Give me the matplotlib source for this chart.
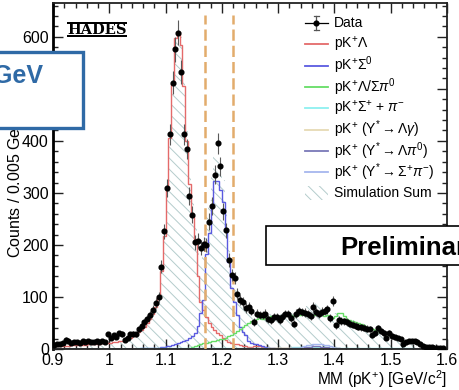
import numpy as np
import matplotlib.pyplot as plt
from matplotlib.patches import Rectangle
from matplotlib.lines import Line2D
from matplotlib.ticker import MultipleLocator, FuncFormatter

plt.rcParams['font.family'] = ['Liberation Sans', 'DejaVu Sans']
plt.rcParams['mathtext.fontset'] = 'custom'
plt.rcParams['mathtext.rm'] = 'Liberation Sans'
plt.rcParams['mathtext.it'] = 'Liberation Sans:italic'
plt.rcParams['mathtext.bf'] = 'Liberation Sans:bold'
plt.rcParams['hatch.linewidth'] = 0.7

# missing mass histogram, 140 bins of 5 MeV from 0.9 to 1.6 GeV/c2
mm_min, mm_max, n_bins = 0.9, 1.6, 140
cuts = [1.17, 1.22]

data = [
    8, 9, 9, 12, 18, 16, 11, 13, 14, 12,
    15, 14, 15, 14, 13, 16, 14, 16, 13, 28,
    22, 26, 24, 30, 29, 18, 21, 28, 29, 28,
    38, 45, 51, 57, 65, 75, 88, 100, 158, 226,
    310, 413, 512, 576, 608, 533, 413, 384, 294, 258,
    205, 208, 195, 202, 200, 245, 275, 335, 395, 351,
    265, 228, 171, 142, 136, 106, 95, 91, 79, 81,
    73, 52, 68, 65, 65, 68, 57, 55, 61, 61,
    56, 62, 67, 67, 60, 49, 68, 73, 71, 70,
    67, 63, 81, 71, 67, 72, 73, 76, 59, 93,
    46, 56, 54, 53, 52, 49, 47, 45, 43, 42,
    41, 39, 38, 27, 31, 40, 34, 31, 22, 31,
    25, 23, 21, 19, 9, 13, 15, 15, 15, 14,
    10, 6, 4, 3, 3, 2, 2, 1, 1, 0,
]

sim_lambda = [
    5, 5, 5, 6, 6, 6, 7, 7, 7, 8,
    8, 8, 9, 9, 9, 10, 10, 11, 11, 12,
    12, 13, 14, 15, 16, 18, 20, 22, 25, 28,
    32, 37, 43, 50, 58, 68, 80, 100, 150, 218,
    305, 405, 512, 598, 610, 585, 505, 400, 318, 255,
    212, 140, 90, 75, 62, 50, 42, 36, 30, 26,
    22, 18, 14, 12, 10, 9, 8, 6, 5, 4,
    4, 5, 6, 5, 4, 3, 2, 2, 1, 1,
    1, 1, 1, 1, 0, 0, 0, 0, 0, 0,
    0, 0, 0, 0, 0, 0, 0, 0, 0, 0,
    0, 0, 0, 0, 0, 0, 0, 0, 0, 0,
    0, 0, 0, 0, 0, 0, 0, 0, 0, 0,
    0, 0, 0, 0, 0, 0, 0, 0, 0, 0,
    0, 0, 0, 0, 0, 0, 0, 0, 0, 0,
]

sim_sigma0 = [
    0, 0, 0, 0, 0, 0, 0, 0, 0, 0,
    0, 0, 0, 0, 0, 0, 0, 0, 0, 0,
    0, 0, 0, 0, 0, 0, 0, 0, 0, 0,
    0, 1, 1, 1, 1, 1, 2, 2, 3, 4,
    5, 6, 7, 9, 11, 13, 15, 18, 21, 25,
    30, 45, 70, 95, 182, 222, 272, 322, 323, 305,
    282, 226, 168, 118, 90, 66, 42, 32, 26, 16,
    12, 10, 9, 7, 5, 3, 2, 1, 1, 0,
    0, 0, 0, 0, 0, 0, 0, 0, 0, 0,
    0, 0, 0, 0, 0, 0, 0, 0, 0, 0,
    0, 0, 0, 0, 0, 0, 0, 0, 0, 0,
    0, 0, 0, 0, 0, 0, 0, 0, 0, 0,
    0, 0, 0, 0, 0, 0, 0, 0, 0, 0,
    0, 0, 0, 0, 0, 0, 0, 0, 0, 0,
]

sim_lambda_sigma_pi0 = [
    0, 0, 0, 0, 0, 0, 0, 0, 0, 0,
    0, 0, 0, 0, 0, 0, 0, 0, 0, 0,
    0, 0, 0, 0, 0, 0, 0, 0, 0, 0,
    0, 0, 0, 0, 0, 0, 0, 0, 0, 0,
    0, 0, 0, 0, 0, 0, 0, 0, 2, 3,
    5, 7, 9, 11, 12, 14, 16, 16, 18, 19,
    20, 22, 25, 27, 30, 34, 38, 42, 46, 50,
    53, 56, 58, 60, 58, 60, 62, 63, 62, 64,
    63, 64, 65, 63, 65, 64, 66, 65, 67, 66,
    65, 68, 66, 67, 66, 67, 64, 65, 62, 60,
    64, 69, 70, 63, 58, 55, 54, 52, 50, 48,
    46, 43, 41, 38, 36, 35, 33, 31, 29, 27,
    26, 24, 22, 19, 15, 15, 16, 17, 16, 14,
    11, 8, 6, 4, 3, 2, 1, 1, 0, 0,
]

sim_sigmap_pim = [
    0, 0, 0, 0, 0, 0, 0, 0, 0, 0,
    0, 0, 0, 0, 0, 0, 0, 0, 0, 0,
    0, 0, 0, 0, 0, 0, 0, 0, 0, 0,
    1, 1, 1, 1, 1, 1, 1, 1, 1, 1,
    1, 1, 1, 1, 1, 1, 1, 1, 1, 1,
    1, 1, 1, 1, 1, 1, 1, 1, 1, 1,
    1, 1, 1, 1, 1, 1, 1, 1, 1, 1,
    1, 1, 1, 1, 1, 1, 1, 2, 2, 2,
    2, 2, 2, 2, 2, 3, 3, 3, 4, 4,
    4, 4, 4, 4, 3, 3, 3, 3, 2, 2,
    2, 2, 2, 2, 1, 1, 1, 1, 1, 1,
    1, 1, 1, 1, 1, 1, 1, 1, 1, 1,
    1, 1, 1, 1, 1, 1, 1, 1, 0, 0,
    0, 0, 0, 0, 0, 0, 0, 0, 0, 0,
]

sim_ystar_lgamma = [
    0, 0, 0, 0, 0, 0, 0, 0, 0, 0,
    0, 0, 0, 0, 0, 0, 0, 0, 0, 0,
    0, 0, 0, 0, 0, 0, 0, 0, 0, 0,
    0, 0, 0, 0, 0, 0, 0, 0, 0, 0,
    0, 0, 0, 0, 0, 0, 0, 0, 0, 0,
    0, 0, 0, 0, 0, 0, 0, 0, 0, 0,
    0, 0, 0, 0, 0, 0, 0, 0, 0, 0,
    0, 0, 0, 0, 0, 0, 0, 1, 1, 1,
    1, 1, 1, 1, 1, 1, 2, 2, 2, 2,
    2, 2, 2, 2, 2, 1, 1, 1, 1, 1,
    1, 1, 0, 0, 0, 0, 0, 0, 0, 0,
    0, 0, 0, 0, 0, 0, 0, 0, 0, 0,
    0, 0, 0, 0, 0, 0, 0, 0, 0, 0,
    0, 0, 0, 0, 0, 0, 0, 0, 0, 0,
]

sim_ystar_lpi0 = [
    0, 0, 0, 0, 0, 0, 0, 0, 0, 0,
    0, 0, 0, 0, 0, 0, 0, 0, 0, 0,
    0, 0, 0, 0, 0, 0, 0, 0, 0, 0,
    0, 0, 0, 0, 0, 0, 0, 0, 0, 0,
    0, 0, 0, 0, 0, 0, 0, 0, 0, 0,
    0, 0, 0, 0, 0, 0, 0, 0, 0, 0,
    0, 0, 0, 0, 0, 0, 0, 0, 0, 0,
    0, 0, 0, 0, 0, 0, 0, 0, 0, 0,
    0, 0, 0, 0, 1, 1, 2, 2, 3, 3,
    4, 4, 5, 5, 5, 4, 4, 3, 2, 2,
    1, 1, 0, 0, 0, 0, 0, 0, 0, 0,
    0, 0, 0, 0, 0, 0, 0, 0, 0, 0,
    0, 0, 0, 0, 0, 0, 0, 0, 0, 0,
    0, 0, 0, 0, 0, 0, 0, 0, 0, 0,
]

sim_ystar_sigmap_pim = [
    0, 0, 0, 0, 0, 0, 0, 0, 0, 0,
    0, 0, 0, 0, 0, 0, 0, 0, 0, 0,
    0, 0, 0, 0, 0, 0, 0, 0, 0, 0,
    0, 0, 0, 0, 0, 0, 0, 0, 0, 0,
    0, 0, 0, 0, 0, 0, 0, 0, 0, 0,
    0, 0, 0, 0, 0, 0, 0, 0, 0, 0,
    0, 0, 0, 0, 0, 0, 0, 0, 0, 0,
    0, 0, 0, 0, 0, 0, 0, 0, 0, 0,
    0, 0, 0, 0, 0, 1, 1, 2, 3, 5,
    7, 8, 9, 10, 10, 9, 8, 7, 6, 4,
    2, 1, 0, 0, 0, 0, 0, 0, 0, 0,
    0, 0, 0, 0, 0, 0, 0, 0, 0, 0,
    0, 0, 0, 0, 0, 0, 0, 0, 0, 0,
    0, 0, 0, 0, 0, 0, 0, 0, 0, 0,
]

components = [
    (sim_lambda, '#e46a6a', r'pK$^{+}\Lambda$'),
    (sim_sigma0, '#5a5ae0', r'pK$^{+}\Sigma^{0}$'),
    (sim_lambda_sigma_pi0, '#66dd66', r'pK$^{+}\Lambda/\Sigma\pi^{0}$'),
    (sim_sigmap_pim, '#8ef0f0', r'pK$^{+}\Sigma^{+}$ + $\pi^{-}$'),
    (sim_ystar_lgamma, '#e6dab4', r'pK$^{+}$ (Y$^{*}\rightarrow\Lambda\gamma$)'),
    (sim_ystar_lpi0, '#7a78b8', r'pK$^{+}$ (Y$^{*}\rightarrow\Lambda\pi^{0}$)'),
    (sim_ystar_sigmap_pim, '#a6b6ee', r'pK$^{+}$ (Y$^{*}\rightarrow\Sigma^{+}\pi^{-}$)'),
]

edges = np.linspace(mm_min, mm_max, n_bins + 1)
centers = 0.5 * (edges[1:] + edges[:-1])
counts = np.array(data, dtype=float)
sim_sum = np.sum([np.array(c[0], dtype=float) for c in components], axis=0)

W, H = 460, 390
fig = plt.figure(figsize=(W / 100, H / 100), dpi=100)
ax = fig.add_axes([53 / W, 1 - 349 / H, 394 / W, 346 / H])

hatch_col = '#b4cccc'
ax.stairs(sim_sum, edges, fill=True, facecolor='none', edgecolor=hatch_col,
          hatch='\\\\\\', lw=0, zorder=1)
for vals, col, lab in components:
    ax.stairs(vals, edges, color=col, lw=1.0, zorder=2)

for c in cuts:
    ax.plot([c, c], [0, 642], color='#e2ac6c', lw=1.8, dashes=(4.5, 2), zorder=3)

ok = counts > 0
ax.errorbar(centers[ok], counts[ok], yerr=np.sqrt(counts[ok]), fmt='o', ms=3.4,
            color='black', ecolor='#5a5a5a', elinewidth=0.8, capsize=0, zorder=4)

ax.set_xlim(mm_min, mm_max)
ax.set_ylim(0, 665)
ax.xaxis.set_major_locator(MultipleLocator(0.1))
ax.xaxis.set_minor_locator(MultipleLocator(0.02))
ax.yaxis.set_major_locator(MultipleLocator(100))
ax.yaxis.set_minor_locator(MultipleLocator(20))
ax.xaxis.set_major_formatter(FuncFormatter(lambda v, p: '%g' % round(v, 2)))
ax.tick_params(which='both', direction='in', top=True, right=True,
               labelsize=11.5, color='#222222')
ax.tick_params(which='major', length=7.5, width=1)
ax.tick_params(which='minor', length=3.8, width=1)
ax.tick_params(axis='x', pad=3)
ax.tick_params(axis='y', pad=3)
for s in ax.spines.values():
    s.set_linewidth(1.3)
    s.set_color('#222222')
ax.spines['left'].set_linewidth(2)
ax.spines['left'].set_color('black')

fig.text(447 / W, 1 - 385 / H, r'MM (pK$^{+}$) [GeV/c$^{2}$]', ha='right',
         va='baseline', fontsize=11.2)
fig.text(15 / W, 1 - 258 / H, r'Counts / 0.005 GeV/c$^{2}$', rotation=90,
         ha='center', va='bottom', fontsize=11.5)

# legend drawn by hand, one row per entry
def fx(px):
    return px / W


def fy(py):
    return 1 - py / H


row0, row_step = 23, 21.3
x0, x1, xt = 305, 328, 334
labels = ['Data'] + [c[2] for c in components] + ['Simulation Sum']
for i, lab in enumerate(labels):
    yy = row0 + i * row_step
    if i == 0:
        fig.add_artist(Line2D([fx(x0), fx(x1)], [fy(yy), fy(yy)], color='black', lw=0.9))
        xm = 0.5 * (x0 + x1)
        fig.add_artist(Line2D([fx(xm), fx(xm)], [fy(yy - 7), fy(yy + 7)], color='#555555', lw=0.9))
        fig.add_artist(Line2D([fx(xm - 2), fx(xm + 2)], [fy(yy - 7), fy(yy - 7)], color='#555555', lw=0.9))
        fig.add_artist(Line2D([fx(xm - 2), fx(xm + 2)], [fy(yy + 7), fy(yy + 7)], color='#555555', lw=0.9))
        fig.add_artist(Line2D([fx(xm)], [fy(yy)], marker='o', ms=3.4, color='black'))
    elif i == len(labels) - 1:
        fig.add_artist(Rectangle((fx(x0), fy(yy + 7)), (x1 - x0) / W, 14 / H,
                                 facecolor='none', edgecolor=hatch_col, hatch='\\\\\\', lw=0))
    else:
        fig.add_artist(Line2D([fx(x0), fx(x1)], [fy(yy), fy(yy)], color=components[i - 1][1], lw=1.3))
    fig.text(fx(xt), fy(yy), lab, ha='left', va='center', fontsize=10)

# HADES logo
fig.add_artist(Rectangle((fx(67), fy(24)), 60 / W, 2 / H, color='black', lw=0))
fig.add_artist(Rectangle((fx(67), fy(37)), 60 / W, 2 / H, color='black', lw=0))
fig.text(fx(97), fy(30), 'HADES', ha='center', va='center', fontsize=10.5,
         family='DejaVu Serif', weight='bold', color='black')

# overlay boxes
fig.add_artist(Rectangle((fx(-12), fy(128)), 95 / W, 76 / H, facecolor='white',
                         edgecolor='#2f6aa6', lw=2.4, zorder=10))
fig.text(fx(43), fy(83), 'GeV', ha='right', va='baseline', fontsize=18,
         weight='bold', color='#2f6aa6', zorder=11)
fig.add_artist(Rectangle((fx(266), fy(265)), 220 / W, 39 / H, facecolor='white',
                         edgecolor='black', lw=1.2, zorder=10))
fig.text(fx(340), fy(255), 'Preliminary', ha='left', va='baseline', fontsize=18.5,
         weight='bold', color='black', zorder=11)

fig.savefig('out.png', dpi=100)
